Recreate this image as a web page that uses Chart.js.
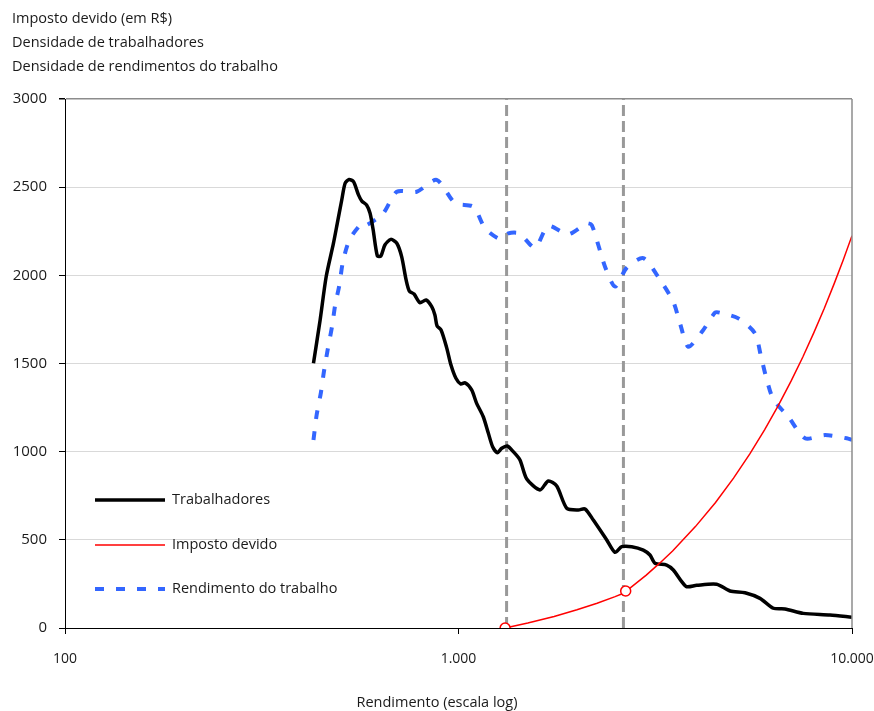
<!DOCTYPE html>
<html><head><meta charset="utf-8">
<script src="https://cdn.jsdelivr.net/npm/chart.js@4.4.1/dist/chart.umd.min.js"></script>
<style>
html,body{margin:0;padding:0;background:#fff;}
#wrap{position:relative;width:874px;height:711px;overflow:hidden;}
canvas{position:absolute;left:0;top:0;}
.t{position:absolute;font-family:"Open Sans",sans-serif;font-size:14.5px;color:#1a1a1a;white-space:nowrap;line-height:20px;}
</style></head><body>
<div id="wrap">
<canvas id="c" width="874" height="711"></canvas>
<div class="t" style="left:12px;top:8px">Imposto devido (em R$)</div>
<div class="t" style="left:12px;top:32px">Densidade de trabalhadores</div>
<div class="t" style="left:12px;top:56px">Densidade de rendimentos do trabalho</div>
<div class="t" style="left:0;width:874px;text-align:center;top:692px">Rendimento (escala log)</div>
</div>
<script>
// ---- data ----
const xTicks = [100, 1000, 10000];
const yTicks = [0, 500, 1000, 1500, 2000, 2500, 3000];

const workerIncome = [428,445,461,481,492,505,515,527,541,557,568,584,596,607,622,635,650,673,697,717,736,750,771,798,827,855,871,882,903,933,957,985,1013,1039,1080,1112,1156,1191,1221,1255,1288,1330,1378,1433,1491,1611,1691,1777,1884,2016,2097,2201,2381,2499,2599,2755,2949,3066,3157,3381,3515,3692,3802,4031,4530,4898,5347,5837,6310,6755,7519,8793,10000];
const workerDensity = [1501,1747,1992,2181,2295,2427,2522,2544,2531,2456,2421,2399,2352,2257,2110,2110,2172,2204,2182,2106,1974,1911,1894,1845,1860,1822,1775,1713,1690,1590,1491,1416,1384,1391,1350,1274,1198,1104,1028,994,1019,1032,1000,953,845,783,834,805,679,669,675,612,499,429,461,461,442,414,367,357,329,263,234,242,248,210,200,168,112,108,83,74,61];

const incomeX = [428,436,447,455,465,477,486,498,508,528,568,584,644,697,783,880,980,1091,1168,1275,1339,1427,1565,1691,1901,2118,2181,2266,2357,2499,2676,2949,3251,3515,3655,3837,4175,4486,4619,5141,5669,5861,6045,6310,6887,7596,8541,9694,10000];
const incomeDensity = [1066,1208,1335,1454,1577,1709,1832,1945,2072,2200,2295,2285,2352,2474,2474,2541,2409,2389,2267,2206,2238,2238,2157,2280,2233,2295,2285,2172,2049,1936,2043,2097,1975,1850,1728,1595,1686,1788,1788,1756,1671,1548,1425,1297,1198,1076,1094,1076,1066];

const taxIncome = [1313.69,1500,1750,2000,2250,2500,2625.12,3000,3250,3500,4000,4500,5000,5500,6000,6500,7000,7500,8000,8500,9000,9500,10000];
const taxDue = [0,28,65,103,140,178,197,300,369,437,575,712,850,987,1125,1262,1400,1537,1675,1812,1950,2087,2225];

const taxMarkIncome = [1313.69, 2660];
const taxMarkDue = [0, 210];

const thresholds = [1325, 2625];
const yRange = [0, 3000];

const labels = ["Trabalhadores", "Imposto devido", "Rendimento do trabalho"];

// ---- build ----
const pts = (xs, ys) => xs.map((x, i) => ({x: x, y: ys[i]}));
const fmt = v => String(v).replace(/\B(?=(\d{3})+(?!\d))/g, '.');

const datasets = [
  {label: labels[0], data: pts(workerIncome, workerDensity), borderColor: '#000', borderWidth: 3.5, pointRadius: 0, tension: 0.25, order: 2},
  {label: labels[1], data: pts(taxIncome, taxDue), borderColor: '#ff0000', borderWidth: 1.5, pointRadius: 0, tension: 0, order: 1},
  {label: labels[2], data: pts(incomeX, incomeDensity), borderColor: '#3366ff', borderWidth: 4, borderDash: [9, 12], pointRadius: 0, tension: 0.25, order: 3},
  {label: 'marks', data: pts(taxMarkIncome, taxMarkDue), showLine: false, pointRadius: 5, pointBorderWidth: 1.5, pointBorderColor: '#ff0000', pointBackgroundColor: '#fff', order: 0}
];
thresholds.forEach(t => datasets.push({label: 'th', data: [{x: t, y: yRange[0]}, {x: t, y: yRange[1]}], borderColor: '#999999', borderWidth: 3, borderDash: [11, 5], pointRadius: 0, order: 4}));

const FONT = "'Open Sans', sans-serif";

const framePlugin = {
  id: 'frame',
  afterDraw(chart) {
    const {ctx, chartArea: a} = chart;
    ctx.save();
    ctx.strokeStyle = '#8c8c8c';
    ctx.lineWidth = 1.5;
    ctx.beginPath();
    ctx.moveTo(a.right, a.top);
    ctx.lineTo(a.right, a.bottom);
    ctx.stroke();
    // legend
    const rows = [a.bottom - 128, a.bottom - 83, a.bottom - 39];
    const x0 = a.left + 30, x1 = a.left + 100;
    [0, 1, 2].forEach((di, i) => {
      const ds = chart.data.datasets[di];
      ctx.beginPath();
      ctx.strokeStyle = ds.borderColor;
      ctx.lineWidth = ds.borderWidth;
      ctx.setLineDash(ds.borderDash || []);
      ctx.moveTo(x0, rows[i]);
      ctx.lineTo(x1, rows[i]);
      ctx.stroke();
      ctx.setLineDash([]);
      ctx.fillStyle = '#1a1a1a';
      ctx.font = '14.5px ' + FONT;
      ctx.textBaseline = 'middle';
      ctx.fillText(ds.label, x1 + 7, rows[i]);
    });
    ctx.restore();
  }
};

new Chart(document.getElementById('c'), {
  type: 'line',
  data: {datasets: datasets},
  plugins: [framePlugin],
  options: {
    responsive: false,
    animation: false,
    events: [],
    layout: {padding: {top: 99, right: 22, left: 0, bottom: 0}},
    plugins: {legend: {display: false}, tooltip: {enabled: false}},
    scales: {
      x: {
        type: 'logarithmic', min: xTicks[0], max: xTicks[xTicks.length - 1],
        afterBuildTicks: s => { s.ticks = xTicks.map(v => ({value: v})); },
        afterFit: s => { s.height = 83; s.paddingLeft = 0; s.paddingRight = 0; },
        ticks: {callback: v => fmt(v), color: '#1a1a1a', font: {family: FONT, size: 14}, padding: 17, maxRotation: 0, autoSkip: false},
        grid: {drawOnChartArea: false, drawTicks: true, tickLength: 6, tickColor: '#000'},
        border: {color: '#000', width: 1}
      },
      y: {
        min: yRange[0], max: yRange[1],
        afterBuildTicks: s => { s.ticks = yTicks.map(v => ({value: v})); },
        afterFit: s => { s.width = 65; s.paddingTop = 0; s.paddingBottom = 0; },
        ticks: {callback: v => String(v), color: '#1a1a1a', font: {family: FONT, size: 15}, padding: 12},
        grid: {
          color: c => c.tick && c.tick.value === yRange[1] ? '#8c8c8c' : '#d9d9d9',
          lineWidth: c => c.tick && c.tick.value === yRange[1] ? 1.5 : 1,
          tickColor: '#000', tickLength: 6
        },
        border: {color: '#000', width: 1}
      }
    }
  }
});
</script>
</body></html>
